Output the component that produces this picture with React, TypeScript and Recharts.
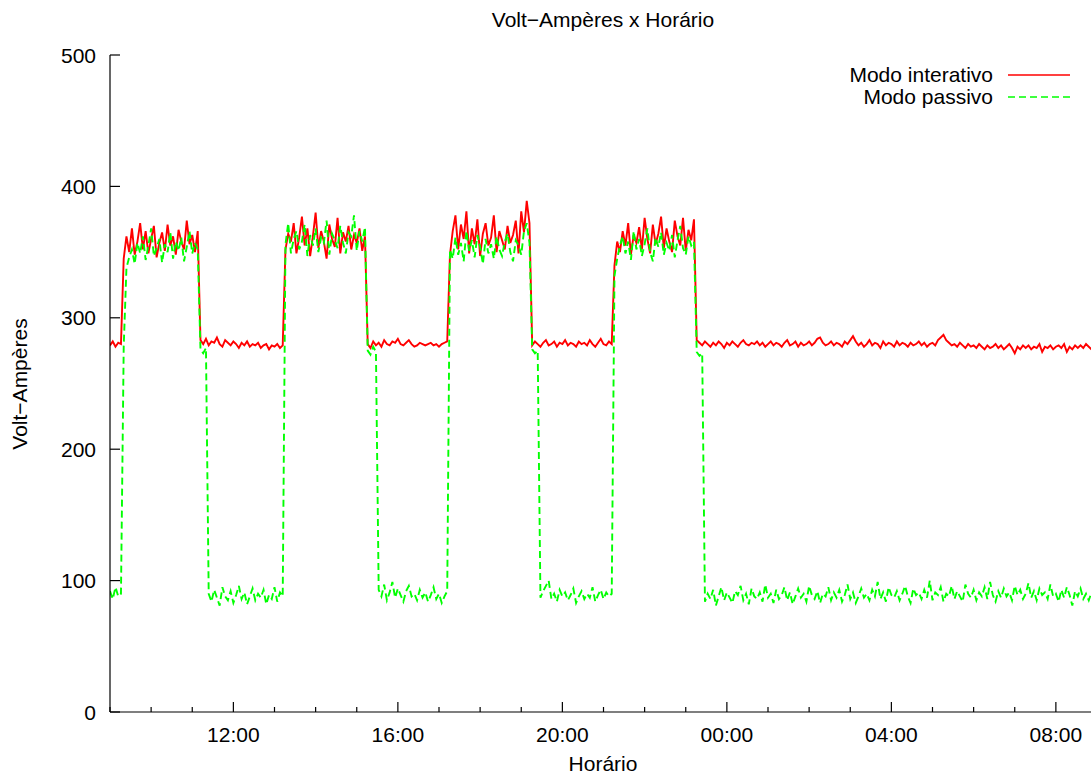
import React from 'react';
import { LineChart, Line, XAxis, YAxis, Legend } from 'recharts';

// amostras a cada 4 minutos, começando às 09:00
const startHour = 9;
const stepMinutes = 4;

const hourTicks = [9, 10, 11, 12, 13, 14, 15, 16, 17, 18, 19, 20, 21, 22, 23, 24, 25, 26, 27, 28, 29, 30, 31, 32, 33];
const majorHours = [12, 16, 20, 24, 28, 32];
const majorLabels = ['12:00', '16:00', '20:00', '00:00', '04:00', '08:00'];
const yTicks = [0, 100, 200, 300, 400, 500];

const interativo = [
  279, 282, 278, 281, 280,
  345, 362, 350, 368, 348, 358, 372, 352, 366, 349, 360, 370, 346, 357, 365, 351, 371, 355, 362, 348, 367, 358, 352, 374, 356, 363, 350, 366,
  283, 280, 284, 279, 282, 281, 285, 280, 278, 283, 281, 279, 282, 280, 277, 281, 279, 282, 278, 280, 279, 281, 277, 279, 280, 276, 279, 278, 280, 277, 279,
  352, 364, 358, 372, 349, 361, 377, 355, 368, 347, 362, 380, 353, 366, 358, 345, 371, 360, 354, 376, 349, 365, 358, 370, 352, 363, 357, 368, 351, 362,
  280, 277, 282, 279, 281, 278, 283, 280, 279, 282, 281, 284, 280, 279, 281, 283, 280, 278, 279, 281, 280, 279, 280, 281, 279, 280, 278, 280, 281, 282,
  348, 366, 378, 352, 371, 360, 381, 349, 368, 356, 375, 347, 364, 372, 355, 361, 378, 350, 366, 359, 352, 370, 357, 363, 374, 349, 381, 365, 389, 372,
  279, 282, 280, 278, 281, 283, 279, 280, 282, 278, 281, 280, 283, 279, 281, 280, 278, 282, 280, 281, 279, 283, 280, 278, 281, 284, 280, 279, 282, 280,
  340, 358, 350, 366, 355, 372, 348, 363, 357, 369, 352, 376, 360, 349, 371, 356, 364, 377, 353, 368, 358, 350, 374, 362, 355, 376, 351, 367, 359, 375,
  283, 281, 279, 282, 280, 278, 281, 279, 282, 280,
  277, 281, 279, 282, 280, 278, 281, 283, 280, 279,
  281, 280, 282, 279, 281, 278, 280, 282, 279, 281,
  280, 278, 281, 283, 279, 280, 282, 278, 281, 279,
  280, 282, 279, 281, 284, 285, 281, 279, 280, 282,
  279, 281, 280, 278, 282, 280, 283, 286, 282, 279,
  281, 278, 280, 283, 279, 281, 280, 277, 282, 279,
  281, 280, 278, 282, 279, 281, 280, 278, 281, 279,
  280, 282, 279, 281, 278, 280, 281, 279, 283, 285,
  287, 283, 281, 279, 280, 278, 281, 279, 277, 280,
  278, 279, 277, 280, 278, 276, 279, 277, 278, 280,
  277, 279, 276, 278, 280, 277, 273, 278, 276, 279,
  277, 279, 276, 278, 277, 280, 274, 278, 277, 279,
  276, 278, 279, 277, 280, 274, 278, 276, 279, 277,
  279, 277, 280, 278, 276, 279, 278,
];

const passivo = [
  92, 86, 95, 88, 90,
  278,
  338, 346, 352, 341, 357, 349, 362, 344, 355, 368, 347, 353, 360, 342, 356, 350, 365, 345, 358, 351, 361, 343, 354, 366, 349, 357, 352,
  276, 273, 277,
  90, 84, 93, 87, 81, 95, 88, 85, 92, 83, 89, 96, 86, 91, 82, 88, 94, 85, 90, 87, 93, 82, 89, 86, 95, 84, 91, 88,
  356, 372, 349, 360, 366, 352, 358, 371, 347, 363, 355, 368, 350, 361, 357, 374, 348, 364, 359, 353, 370, 357, 349, 365, 362, 378, 351, 366, 358, 369,
  275, 272, 278, 274,
  93, 88, 97, 85, 91, 99, 87, 94, 89, 84, 92, 96, 88, 90, 85, 93, 87, 91, 84, 89, 95, 86, 90, 83, 88, 92,
  352, 345, 361, 348, 357, 343, 366, 351, 359, 346, 363, 354, 341, 360, 349, 356, 345, 362, 352, 347, 358, 364, 350, 343, 359, 355, 348, 366, 372, 357,
  276, 273, 275,
  87, 92, 96, 100, 86, 90, 84, 93, 88, 91, 85, 89, 94, 83, 88, 92, 86, 90, 87, 95, 84, 89, 93, 86, 91, 88, 90,
  332,
  345, 355, 362, 349, 358, 344, 366, 352, 360, 347, 356, 368, 350, 343, 361, 354, 365, 348, 357, 351, 363, 346, 359, 370, 353, 348, 362, 355, 358,
  274, 271, 273,
  84, 90, 86, 93, 81, 88, 95, 85, 91, 87,
  83, 92, 89, 96, 85, 90, 82, 94, 88, 86,
  91, 84, 97, 87, 90, 83, 93, 86, 89, 95,
  85, 91, 82, 88, 94, 87, 90, 84, 96, 89,
  86, 92, 83, 90, 88, 95, 85, 91, 87, 93,
  84, 89, 97, 86, 91, 83, 88, 94, 87, 90,
  85, 93, 88, 99, 86, 91, 84, 95, 89, 87,
  92, 85, 90, 96, 88, 83, 94, 89, 91, 86,
  93, 87, 100, 85, 91, 89, 95, 84, 90, 88,
  96, 86, 92, 88, 84, 97, 90, 87, 93, 85,
  91, 88, 95, 86, 99, 89, 84, 92, 87, 94,
  88, 91, 85, 96, 89, 93, 86, 90, 98, 87,
  92, 85, 94, 89, 91, 86, 97, 88, 90, 84,
  93, 87, 95, 89, 81, 92, 88, 94, 86, 90,
  85, 91, 88, 87,
];

const data = interativo.map((v, i) => ({
  t: startHour + (i * stepMinutes) / 60,
  interativo: v,
  passivo: passivo[i],
}));

const FONT = '"Liberation Sans", Arial, Helvetica, sans-serif';
const FS = 21;

const labelFor = (h: number) => {
  const idx = majorHours.indexOf(h);
  return idx >= 0 ? majorLabels[idx] : '';
};

// gnuplot style ticks: pointing inwards, labels outside
const BottomTick = (props: any) => {
  const { x, y, payload } = props;
  const label = labelFor(payload.value);
  return (
    <g>
      <line x1={x} x2={x} y1={y} y2={y - (label ? 10 : 5)} stroke="#000" strokeWidth={1.2} />
      {label && (
        <text x={x} y={y + 30} textAnchor="middle" fontFamily={FONT} fontSize={FS} fill="#000">
          {label}
        </text>
      )}
    </g>
  );
};

const TopTick = (props: any) => {
  const { x, y, payload } = props;
  const major = labelFor(payload.value) !== '';
  return <line x1={x} x2={x} y1={y} y2={y + (major ? 10 : 5)} stroke="#000" strokeWidth={1.2} />;
};

const LeftTick = (props: any) => {
  const { x, y, payload } = props;
  return (
    <g>
      <line x1={x} x2={x + 10} y1={y} y2={y} stroke="#000" strokeWidth={1.2} />
      <text x={x - 14} y={y} dy="0.36em" textAnchor="end" fontFamily={FONT} fontSize={FS} fill="#000">
        {payload.value}
      </text>
    </g>
  );
};

const RightTick = (props: any) => {
  const { x, y } = props;
  return <line x1={x} x2={x - 10} y1={y} y2={y} stroke="#000" strokeWidth={1.2} />;
};

const renderLegend = (props: any) => {
  const { payload } = props;
  return (
    <div style={{ display: 'flex', flexDirection: 'column', alignItems: 'flex-end' }}>
      {payload.map((entry: any) => (
        <div key={entry.value} style={{ display: 'flex', alignItems: 'center', height: 22 }}>
          <span style={{ fontFamily: FONT, fontSize: FS, lineHeight: '22px', color: '#000' }}>{entry.value}</span>
          <svg width={62} height={10} style={{ marginLeft: 15 }}>
            <line
              x1={0}
              x2={62}
              y1={5}
              y2={5}
              stroke={entry.color}
              strokeWidth={1.5}
              strokeDasharray={entry.payload?.strokeDasharray}
            />
          </svg>
        </div>
      ))}
    </div>
  );
};

export default function App() {
  return (
    <div style={{ position: 'fixed', left: 0, top: 0, width: 1091, height: 776, overflow: 'hidden', background: '#fff' }}>
      <div style={{ position: 'relative', width: 1100, height: 776 }}>
        <LineChart width={1100} height={776} data={data} margin={{ top: 55, right: 3, bottom: 0, left: 0 }}>
          <XAxis
            dataKey="t"
            type="number"
            domain={[9, 33]}
            allowDataOverflow
            ticks={hourTicks}
            interval={0}
            height={64}
            tickSize={0}
            tickMargin={0}
            tickLine={false}
            axisLine={{ stroke: '#000', strokeWidth: 1.2 }}
            tick={<BottomTick />}
          />
          <XAxis
            xAxisId="top"
            orientation="top"
            dataKey="t"
            type="number"
            domain={[9, 33]}
            allowDataOverflow
            ticks={hourTicks}
            interval={0}
            height={0}
            tickSize={0}
            tickMargin={0}
            tickLine={false}
            axisLine={{ stroke: '#000', strokeWidth: 1.2 }}
            tick={<TopTick />}
          />
          <YAxis
            type="number"
            domain={[0, 500]}
            ticks={yTicks}
            interval={0}
            width={110}
            tickSize={0}
            tickMargin={0}
            tickLine={false}
            axisLine={{ stroke: '#000', strokeWidth: 1.2 }}
            tick={<LeftTick />}
          />
          <YAxis
            yAxisId="right"
            orientation="right"
            type="number"
            domain={[0, 500]}
            ticks={yTicks}
            interval={0}
            width={0}
            tickSize={0}
            tickMargin={0}
            tickLine={false}
            axisLine={{ stroke: '#000', strokeWidth: 1.2 }}
            tick={<RightTick />}
          />
          <Legend
            layout="vertical"
            align="center"
            verticalAlign="middle"
            content={renderLegend}
            wrapperStyle={{ position: 'absolute', top: 64, left: 670, width: 400 }}
          />
          <Line
            name="Modo interativo"
            dataKey="interativo"
            type="linear"
            stroke="#ff0000"
            strokeWidth={1.9}
            dot={false}
            isAnimationActive={false}
          />
          <Line
            name="Modo passivo"
            dataKey="passivo"
            type="linear"
            stroke="#00ff00"
            strokeWidth={1.9}
            strokeDasharray="7 4"
            dot={false}
            isAnimationActive={false}
          />
        </LineChart>
        <div
          style={{
            position: 'absolute',
            left: 303,
            width: 600,
            top: 9,
            textAlign: 'center',
            fontFamily: FONT,
            fontSize: FS,
            lineHeight: '22px',
          }}
        >
          Volt−Ampères x Horário
        </div>
        <div
          style={{
            position: 'absolute',
            left: 303,
            width: 600,
            top: 753,
            textAlign: 'center',
            fontFamily: FONT,
            fontSize: FS,
            lineHeight: '22px',
          }}
        >
          Horário
        </div>
        <div
          style={{
            position: 'absolute',
            left: 20 - 100,
            top: 384 - 11,
            width: 200,
            height: 22,
            textAlign: 'center',
            fontFamily: FONT,
            fontSize: FS,
            lineHeight: '22px',
            transform: 'rotate(-90deg)',
          }}
        >
          Volt−Ampères
        </div>
      </div>
    </div>
  );
}
